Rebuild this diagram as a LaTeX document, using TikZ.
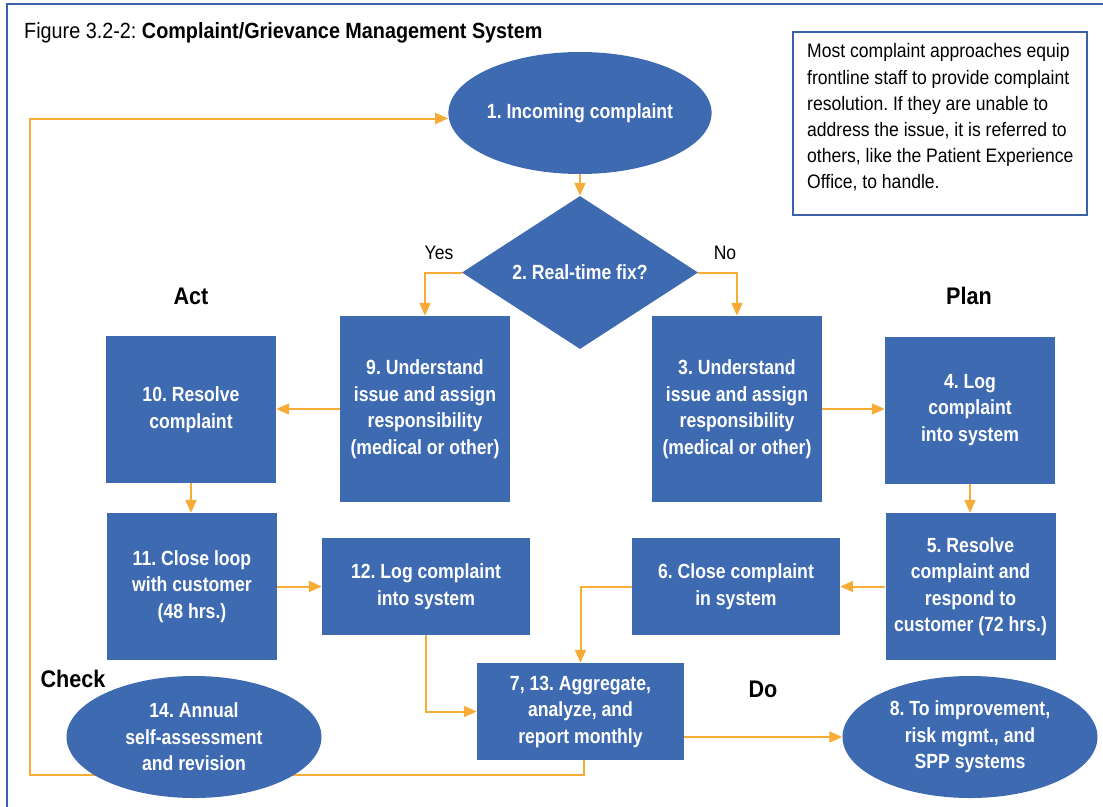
\documentclass[tikz,border=0pt]{standalone}
\usepackage{fontspec}
\setmainfont{Liberation Sans}[FakeStretch=0.9]
\newfontfamily\narrowfam{Liberation Sans}[FakeStretch=0.86]
\usetikzlibrary{shapes.geometric,arrows.meta,backgrounds}

\definecolor{boxblue}{RGB}{62,106,177}
\definecolor{frameblue}{RGB}{60,96,170}
\definecolor{flow}{RGB}{248,172,56}

\tikzset{
  boxfont/.style={font=\narrowfam\bfseries\fontsize{20.5}{26.5}\selectfont},
  stepbox/.style={rectangle, fill=boxblue, inner sep=0pt, text=white, align=center, boxfont},
  oval/.style={ellipse, fill=boxblue, inner sep=0pt, minimum width=256pt, minimum height=122pt,
               text=white, align=center, boxfont},
  decision/.style={diamond, fill=boxblue, inner sep=0pt, minimum width=236pt, minimum height=153pt,
                   text=white, boxfont},
  conn/.style={draw=flow, line width=2pt, -{Triangle[length=13pt,width=11pt]}},
  phase/.style={font=\bfseries\fontsize{24}{28}\selectfont},
  answer/.style={font=\fontsize{19.5}{22}\selectfont},
}

\begin{document}
\frenchspacing
\begin{tikzpicture}[x=1pt,y=-1pt]
\useasboundingbox (0,0) rectangle (1103,806);

% outer frame
\draw[frameblue, line width=2.5pt] (7,830) -- (7,4) -- (1130,4);

% title
\node[anchor=base west, inner sep=0pt, font=\fontsize{22}{24}\selectfont] (title) at (24,38)
  {Figure 3.2-2: \textbf{Complaint/Grievance Management System}};

% side note
\draw[frameblue, line width=1.3pt] (793,32) rectangle (1087,215);
\node[anchor=north west, inner sep=0pt, align=left, font=\fontsize{19.5}{26.2}\selectfont] (note) at (807,43.5)
  {Most complaint approaches equip\\frontline staff to provide complaint\\resolution. If they are unable to\\address the issue, it is referred to\\others, like the Patient Experience\\Office, to handle.};

% flow chart elements
\node[oval] (e1) at (580,113) {1. Incoming complaint};
\node[decision] (d2) at (580,272.5) {2. Real-time fix?};

\node[stepbox, minimum width=170pt, minimum height=186pt] (b9) at (425,409)
  {9. Understand\\issue and assign\\responsibility\\(medical or other)};
\node[stepbox, minimum width=170pt, minimum height=186pt] (b3) at (737,409)
  {3. Understand\\issue and assign\\responsibility\\(medical or other)};
\node[stepbox, minimum width=170pt, minimum height=147pt] (b10) at (191,409.5)
  {10. Resolve\\complaint};
\node[stepbox, minimum width=170pt, minimum height=147pt] (b4) at (970,410)
  {4. Log\\complaint\\into system};
\node[stepbox, minimum width=170pt, minimum height=147pt] (b11) at (192,586.5)
  {11. Close loop\\with customer\\(48 hrs.)};
\node[stepbox, minimum width=208pt, minimum height=97pt] (b12) at (426,586.5)
  {12. Log complaint\\into system};
\node[stepbox, minimum width=208pt, minimum height=97pt] (b6) at (736,586.5)
  {6. Close complaint\\in system};
\node[stepbox, minimum width=170pt, minimum height=147pt] (b5) at (970.5,586.5)
  {5. Resolve\\complaint and\\respond to\\customer (72 hrs.)};
\node[stepbox, minimum width=207pt, minimum height=97pt] (b7) at (580.5,711.5)
  {7, 13. Aggregate,\\analyze, and\\report monthly};
\node[oval, minimum width=255pt] (e14) at (194,737)
  {14. Annual\\self-assessment\\and revision};
\node[oval, minimum width=255pt] (e8) at (970,737)
  {8. To improvement,\\risk mgmt., and\\SPP systems};

% phase and answer labels
\node[phase] (act) at (191,296) {Act};
\node[phase] (plan) at (969,296) {Plan};
\node[phase] (check) at (73,679) {Check};
\node[phase] (do) at (763,689) {Do};
\node[answer] (yes) at (439,253) {Yes};
\node[answer] (no) at (725,253) {No};

% connectors
\coordinate (loopB) at (30,775);
\coordinate (loopT) at (30,118.5);
\begin{pgfonlayer}{background}
  \draw[conn] (e1.south) -- (d2.north);
  \draw[conn] (d2.west) -| (b9.north);
  \draw[conn] (d2.east) -| (b3.north);
  \draw[conn] (b9.west) -- (b9.west -| b10.east);
  \draw[conn] (b3.east) -- (b3.east -| b4.west);
  \draw[conn] (b10.south) -- (b10.south |- b11.north);
  \draw[conn] (b4.south) -- (b4.south |- b5.north);
  \draw[conn] (b11.east) -- (b12.west);
  \draw[conn] (b5.west) -- (b6.east);
  \draw[conn] (b6.west) -| (b7.north);
  \draw[conn] (b12.south) |- (b7.west);
  \draw[conn] (b7.east |- e8.west) -- (e8.west);
  \draw[conn] ([xshift=3pt]b7.south) |- (loopB) -- (loopT) -- (loopT -| e1.west);
\end{pgfonlayer}
\end{tikzpicture}
\end{document}
